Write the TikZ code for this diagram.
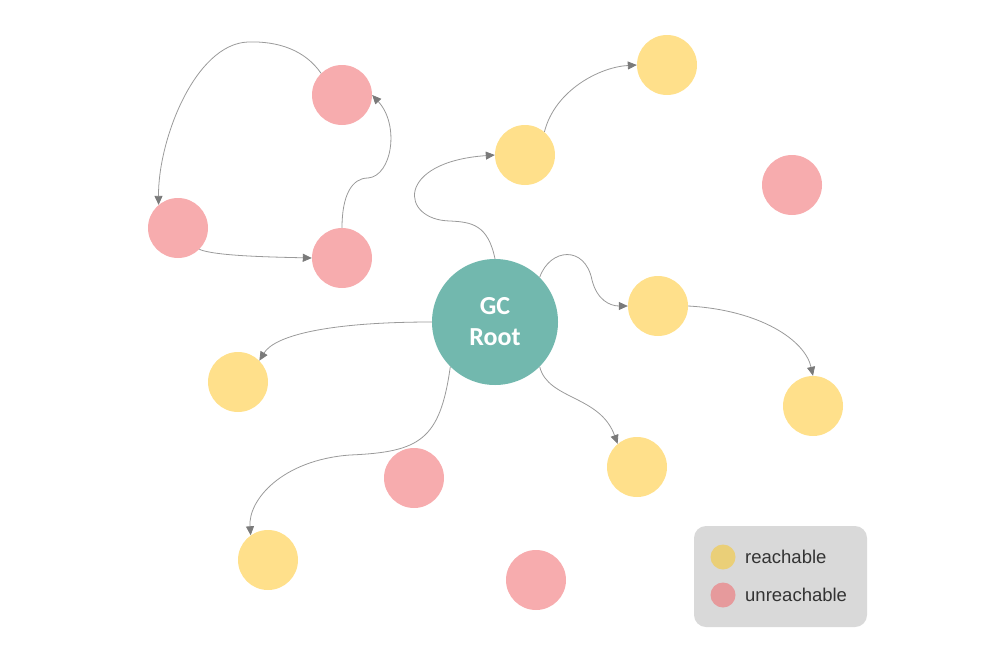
\documentclass[tikz,border=0pt]{standalone}
\usepackage{fontspec}
\setmainfont{Liberation Sans}
\newfontfamily\gcfont{Carlito}
\usetikzlibrary{arrows.meta}
\definecolor{yel}{HTML}{FFE08B}
\definecolor{redc}{HTML}{F7ACAE}
\definecolor{teal}{HTML}{72B8AE}
\definecolor{lyel}{HTML}{EACF78}
\definecolor{lred}{HTML}{E69A9C}
\definecolor{legbg}{HTML}{D9D9D9}
\definecolor{edgec}{HTML}{9A9A9A}
\definecolor{tipc}{HTML}{7A7A7A}
\begin{document}
\begin{tikzpicture}[x=1pt,y=-1pt,
  obj/.style={circle,minimum size=60pt,inner sep=0pt},
  yobj/.style={obj,fill=yel},
  robj/.style={obj,fill=redc},
  conn/.style={draw=edgec,line width=0.8pt,-{Triangle[length=9pt,width=8pt,fill=tipc,color=tipc]}},
  legdot/.style={circle,minimum size=25pt,inner sep=0pt},
  legtext/.style={anchor=west,font=\fontsize{18.5}{22}\selectfont,text=black!80,inner sep=0pt}]
\useasboundingbox (0,0) rectangle (1000,645);
% nodes
\node[circle,fill=teal,minimum size=126pt,inner sep=0pt,align=center,text=white,
  font=\gcfont\bfseries\fontsize{26}{31}\selectfont] (gc) at (495,322) {GC\\Root};
\node[robj] (r1) at (342,95) {};
\node[robj] (r2) at (178,228) {};
\node[robj] (r3) at (342,258) {};
\node[robj] (r4) at (792,185) {};
\node[robj] (r5) at (414,478) {};
\node[robj] (r6) at (536,580) {};
\node[yobj] (y1) at (525,155) {};
\node[yobj] (y2) at (667,65) {};
\node[yobj] (y3) at (658,306) {};
\node[yobj] (y4) at (813,406) {};
\node[yobj] (y5) at (238,382) {};
\node[yobj] (y6) at (637,467) {};
\node[yobj] (y7) at (268,560) {};
% connectors
\draw[conn] (r1.134) .. controls (305,50) and (278,41) .. (248,42) .. controls (195,44) and (158,140) .. (r2.130);
\draw[conn] (r2.-45) .. controls (215,256) and (270,257) .. (r3.west);
\draw[conn] (r3.north) .. controls (342,195) and (352,178) .. (368,178) .. controls (392,176) and (400,125) .. (r1.east);
\draw[conn] (gc.north) .. controls (488,225) and (472,222) .. (450,221) .. controls (400,220) and (395,162) .. (y1.west);
\draw[conn] (y1.50) .. controls (555,90) and (600,67) .. (y2.west);
\draw[conn] (gc.45) .. controls (550,248) and (585,245) .. (592,280) .. controls (597,300) and (610,306) .. (y3.west);
\draw[conn] (y3.east) .. controls (760,310) and (805,340) .. (y4.north);
\draw[conn] (gc.west) .. controls (330,322) and (275,335) .. (y5.45);
\draw[conn] (gc.225) .. controls (440,440) and (420,452) .. (350,455) .. controls (282,460) and (248,500) .. (y7.125);
\draw[conn] (gc.-45) .. controls (548,400) and (600,395) .. (y6.130);
% legend
\node[draw=none,fill=legbg,rounded corners=12pt,minimum width=173pt,minimum height=101pt,inner sep=0pt] (leg) at (780.5,576.5) {};
\node[legdot,fill=lyel] (ly) at (723,557) {};
\node[legdot,fill=lred] (lr) at (723,595) {};
\node[legtext] (lyt) at (745,557) {reachable};
\node[legtext] (lrt) at (745,595) {unreachable};
\end{tikzpicture}
\end{document}
